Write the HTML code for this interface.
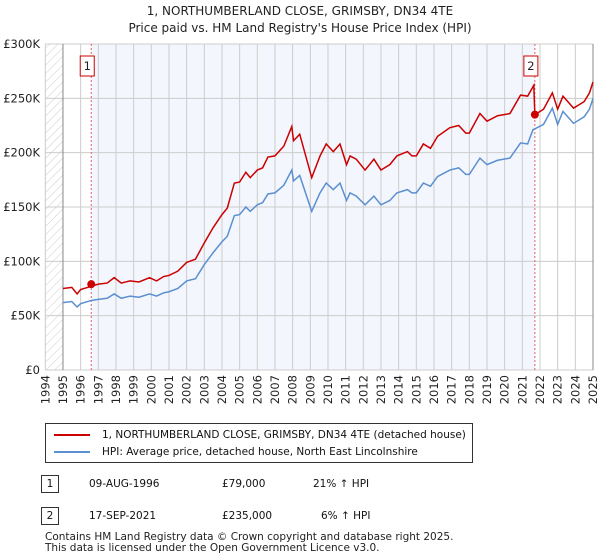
<!DOCTYPE html>
<html><head><meta charset="utf-8"><style>
body{margin:0;background:#fff;font-family:"DejaVu Sans","Liberation Sans",sans-serif;}
#wrap{position:relative;width:600px;height:560px;overflow:hidden;}
</style></head><body>
<div id="wrap">
<svg id="chart" width="600" height="560" xmlns="http://www.w3.org/2000/svg" font-family="DejaVu Sans, Liberation Sans, sans-serif">
<defs><pattern id="hatch" width="6" height="6" patternUnits="userSpaceOnUse" patternTransform="rotate(45)"><line x1="0" y1="0" x2="0" y2="6" stroke="#ccc" stroke-width="1"/></pattern></defs>
<text x="300" y="15" text-anchor="middle" font-size="12" fill="#222">1, NORTHUMBERLAND CLOSE, GRIMSBY, DN34 4TE</text>
<text x="300" y="32" text-anchor="middle" font-size="12" fill="#222">Price paid vs. HM Land Registry's House Price Index (HPI)</text>
<g id="plot"></g>
</svg>
<div style="position:absolute;left:45px;top:423px;width:426px;height:38px;border:1px solid #333;font-size:10.5px;color:#111">
 <div style="position:absolute;left:8px;top:5px;white-space:nowrap"><span style="display:inline-block;width:36px;height:2px;background:#cc0000;vertical-align:middle;margin-right:12px"></span>1, NORTHUMBERLAND CLOSE, GRIMSBY, DN34 4TE (detached house)</div>
 <div style="position:absolute;left:8px;top:22px;white-space:nowrap"><span style="display:inline-block;width:36px;height:2px;background:#5b8fd0;vertical-align:middle;margin-right:12px"></span>HPI: Average price, detached house, North East Lincolnshire</div>
</div>
<div style="font-size:10.5px;color:#111">
 <div style="position:absolute;left:41px;top:475px;width:16px;height:16px;border:1px solid #333;text-align:center;line-height:16px">1</div>
 <div style="position:absolute;left:89px;top:478px">09-AUG-1996</div>
 <div style="position:absolute;left:222px;top:478px">£79,000</div>
 <div style="position:absolute;left:313px;top:478px">21% ↑ HPI</div>
 <div style="position:absolute;left:41px;top:507px;width:16px;height:16px;border:1px solid #333;text-align:center;line-height:16px">2</div>
 <div style="position:absolute;left:89px;top:510px">17-SEP-2021</div>
 <div style="position:absolute;left:222px;top:510px">£235,000</div>
 <div style="position:absolute;left:321px;top:510px">6% ↑ HPI</div>
</div>
<div style="position:absolute;left:45px;top:532px;font-size:10.5px;color:#222;line-height:11px">Contains HM Land Registry data © Crown copyright and database right 2025.<br>This data is licensed under the Open Government Licence v3.0.</div>
</div>
<script>
const hpiYears=[1995,1995.5,1995.8,1996,1996.6,1997,1997.5,1997.9,1998.3,1998.8,1999.3,1999.9,2000.3,2000.7,2001,2001.5,2002,2002.5,2003,2003.5,2004,2004.3,2004.7,2005,2005.35,2005.6,2006,2006.3,2006.6,2007,2007.5,2007.95,2008.05,2008.4,2009.08,2009.55,2009.9,2010.3,2010.68,2011.05,2011.25,2011.6,2012.1,2012.6,2013,2013.5,2013.9,2014.5,2014.75,2015,2015.4,2015.8,2016.2,2016.9,2017.4,2017.8,2018,2018.6,2019,2019.6,2020.3,2020.9,2021.3,2021.6,2022.2,2022.7,2023,2023.3,2023.9,2024.5,2024.8,2025];
const hpiValues=[62,63,58,61,64,65,66,70,66,68,67,70,68,71,72,75,82,84,97,108,118,123,142,143,150,146,152,154,162,163,170,184,174,179,146,163,172,166,172,156,163,160,152,160,152,156,163,166,163,163,172,169,178,184,186,180,180,195,189,193,195,209,208,221,226,241,226,238,227,233,240,250];
const priceYears=[1995,1995.5,1995.8,1996,1996.6,1997,1997.5,1997.9,1998.3,1998.8,1999.3,1999.9,2000.3,2000.7,2001,2001.5,2002,2002.5,2003,2003.5,2004,2004.3,2004.7,2005,2005.35,2005.6,2006,2006.3,2006.6,2007,2007.5,2007.95,2008.05,2008.4,2009.08,2009.55,2009.9,2010.3,2010.68,2011.05,2011.25,2011.6,2012.1,2012.6,2013,2013.5,2013.9,2014.5,2014.75,2015,2015.4,2015.8,2016.2,2016.9,2017.4,2017.8,2018,2018.6,2019,2019.6,2020.3,2020.9,2021.3,2021.65,2021.71,2022.2,2022.7,2023,2023.3,2023.9,2024.5,2024.8,2025];
const priceValues=[75,76,70,74,77,79,80,85,80,82,81,85,82,86,87,91,99,102,117,131,143,149,172,173,182,177,184,186,196,197,206,224,211,217,177,197,208,201,208,189,197,194,184,194,184,189,197,201,197,197,208,204,215,223,225,218,218,236,229,234,236,253,252,262,235,240,255,240,252,241,247,255,265];
const saleYears=[1996.6,2021.71];
const salePrices=[79,235];
const saleLabels=["1","2"];
const yTicks=[0,50,100,150,200,250,300];
const yTickLabels=["£0","£50K","£100K","£150K","£200K","£250K","£300K"];
const xTicks=[1994,1995,1996,1997,1998,1999,2000,2001,2002,2003,2004,2005,2006,2007,2008,2009,2010,2011,2012,2013,2014,2015,2016,2017,2018,2019,2020,2021,2022,2023,2024,2025];

const X0=45.3,X1=593,Y0=370,Y1=44;
const xs=y=>X0+(y-1994)*(X1-X0)/31;
const ys=v=>Y0-v*(Y0-Y1)/300;
const NS="http://www.w3.org/2000/svg";
const g=document.getElementById('plot');
function mk(t,a){const e=document.createElementNS(NS,t);for(const k in a)e.setAttribute(k,a[k]);g.appendChild(e);return e;}
let e;
e=mk('rect',{x:xs(1994),y:Y1,width:xs(1995)-xs(1994),height:Y0-Y1,fill:'url(#hatch)'});


e=mk('rect',{x:xs(saleYears[0]),y:Y1,width:xs(saleYears[1])-xs(saleYears[0]),height:Y0-Y1,fill:'#f3f6fd'});


yTicks.forEach((t,i)=>{
 e=mk('line',{x1:X0,x2:X1,y1:ys(t),y2:ys(t),stroke:'#ccc','stroke-width':1});
 
 
 e=mk('text',{x:40,y:ys(t)+4,'text-anchor':'end','font-size':11.5,fill:'#222'});e.textContent=yTickLabels[i];
 
 
});
xTicks.forEach(t=>{
 e=mk('line',{x1:xs(t),x2:xs(t),y1:Y1,y2:Y0,stroke:'#ccc','stroke-width':1});
 
 
 e=mk('text',{x:0,y:0,'text-anchor':'end','font-size':11.5,fill:'#222',transform:`translate(${xs(t)+4},${Y0+5}) rotate(-90)`});e.textContent=t;
 
 
});
e=mk('line',{x1:xs(1995),x2:xs(1995),y1:Y1,y2:Y0,stroke:'#888','stroke-width':1});


e=mk('line',{x1:X1,x2:X1,y1:Y1,y2:Y0,stroke:'#888','stroke-width':1});


saleYears.forEach((s,i)=>{
 e=mk('line',{x1:xs(s),x2:xs(s),y1:Y1,y2:Y0,stroke:'#e06060','stroke-width':1,'stroke-dasharray':'2,2'});
 
 
});
e=mk('polyline',{points:hpiYears.map((y,i)=>xs(y)+','+ys(hpiValues[i])).join(' '),fill:'none',stroke:'#5b8fd0','stroke-width':1.5});


e=mk('polyline',{points:priceYears.map((y,i)=>xs(y)+','+ys(priceValues[i])).join(' '),fill:'none',stroke:'#cc0000','stroke-width':1.5});


saleYears.forEach((s,i)=>{
 e=mk('circle',{cx:xs(s),cy:ys(salePrices[i]),r:4,fill:'#cc0000'});
 
 
 e=mk('rect',{x:xs(s)-11,y:56,width:14,height:20,fill:'#fff',stroke:'#cc0000','stroke-width':1});
 
 
 e=mk('text',{x:xs(s)-4,y:70,'text-anchor':'middle','font-size':11.5,fill:'#222'});e.textContent=saleLabels[i];
 
 
});
</script>
</body></html>
